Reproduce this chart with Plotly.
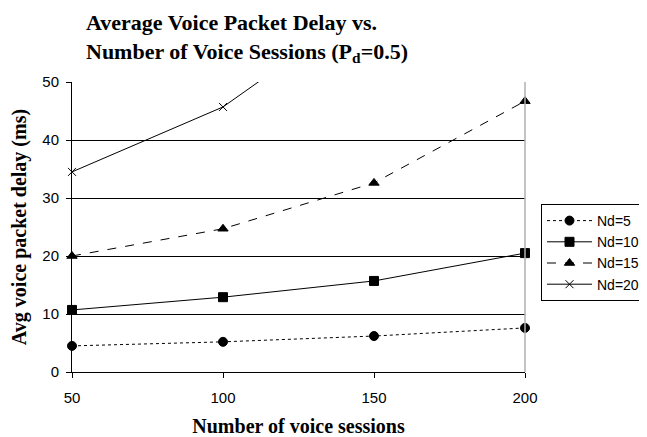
import plotly.graph_objects as go

sessions = [50, 100, 150, 200]
nd5 = [4.5, 5.2, 6.2, 7.6]
nd10 = [10.7, 12.9, 15.7, 20.5]
nd15 = [20.0, 24.7, 32.6, 46.7]
nd20 = [34.5, 45.7, 64.1, 90.0]
series_names = ["Nd=5", "Nd=10", "Nd=15", "Nd=20"]
y_ticks = [0, 10, 20, 30, 40, 50]
x_ticks = [50, 100, 150, 200]

styles = [
    dict(dash="dot", symbol="circle", size=9),
    dict(dash="solid", symbol="square", size=9),
    dict(dash="dash", symbol="triangle-up", size=9),
    dict(dash="solid", symbol="x-thin-open", size=8),
]

fig = go.Figure()
for name, ys, st in zip(series_names, [nd5, nd10, nd15, nd20], styles):
    fig.add_trace(go.Scatter(
        x=sessions, y=ys, name=name, mode="lines+markers",
        line=dict(color="black", width=1, dash=st["dash"]),
        marker=dict(symbol=st["symbol"], size=st["size"], color="black",
                    line=dict(color="black", width=1)),
        cliponaxis=False,
    ))

fig.add_shape(type="line", xref="paper", yref="paper", x0=1, x1=1, y0=0, y1=1,
              line=dict(color="#b0b0b0", width=1.5))

# page has an 8px body margin: figure sized to fit in the window
W, H = 639, 429
fig.update_layout(
    width=W, height=H,
    margin=dict(l=64, r=122, t=74, b=65),
    paper_bgcolor="white", plot_bgcolor="white",
    title=dict(
        text="Average Voice Packet Delay vs.<br>Number of Voice Sessions (P<sub>d</sub>=0.5)",
        x=78/W, xanchor="left", xref="container",
        y=1 - 22/H, yanchor="top", yref="container",
        font=dict(family="Liberation Serif", size=22, color="black", weight="bold"),
    ),
    font=dict(family="Liberation Sans", size=15, color="black"),
    showlegend=True,
    legend=dict(
        x=533/W, xanchor="left", xref="container",
        y=1 - 196/H, yanchor="top", yref="container",
        bordercolor="black", borderwidth=1, bgcolor="white",
        font=dict(family="Liberation Sans", size=14, color="black"),
        tracegroupgap=0, itemwidth=45,
    ),
    xaxis=dict(
        range=[50, 200], tickvals=x_ticks, ticks="outside", ticklen=5,
        tickcolor="black", showline=True, linecolor="black", linewidth=1,
        showgrid=False, zeroline=False, automargin=False, ticklabelstandoff=7,
        title=dict(text="Number of voice sessions", standoff=13,
                   font=dict(family="Liberation Serif", size=20, color="black", weight="bold")),
    ),
    yaxis=dict(
        range=[0, 50], tickvals=y_ticks, ticks="outside", ticklen=5,
        tickcolor="black", showline=True, linecolor="black", linewidth=1,
        showgrid=True, gridcolor="black", gridwidth=1, zeroline=False,
        automargin=False, ticklabelstandoff=4,
        title=dict(text="Avg voice packet delay (ms)", standoff=12,
                   font=dict(family="Liberation Serif", size=20, color="black", weight="bold")),
    ),
)

fig.write_html("out.html")
